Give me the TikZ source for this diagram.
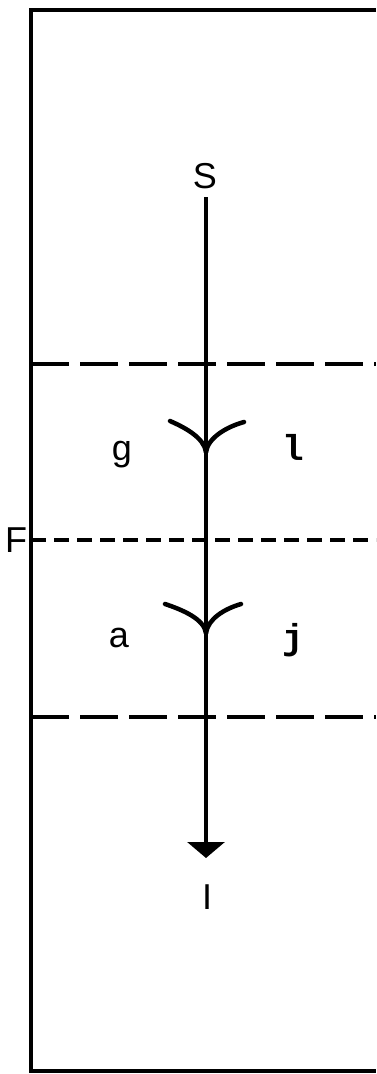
\documentclass[tikz,border=0pt]{standalone}
\usepackage{fontspec}
\setmainfont{Liberation Sans}
\newfontfamily\monofnt{Liberation Mono}
\usetikzlibrary{arrows.meta}
\begin{document}
\begin{tikzpicture}[x=1pt,y=-1pt,
  frame/.style={line width=4.5pt},
  mainline/.style={line width=3.5pt},
  longdash/.style={line width=3.8pt, dash pattern=on 38pt off 11pt},
  shortdash/.style={line width=3.8pt, dash pattern=on 15pt off 8pt},
  forkarm/.style={line width=4.5pt, line cap=round},
  lbl/.style={inner sep=0pt, font=\fontsize{36}{40}\selectfont},
  mlbl/.style={inner sep=0pt, font=\fontsize{36}{40}\selectfont\monofnt\bfseries}]
\useasboundingbox (0,0) rectangle (376,1074);
\fill[white] (0,0) rectangle (376,1074);
% frame (open to the right)
\draw[frame] (376,10) -- (31,10) -- (31,1071) -- (376,1071);
% dashed separators
\draw[longdash] (31,364) -- (376,364);
\draw[shortdash] (31,540) -- (376,540);
\draw[longdash] (31,717) -- (376,717);
% labels
\node[lbl] (S) at (205,176) {S};
\node[lbl] (I) at (207,897) {I};
\node[lbl] (F) at (16,540) {F};
\node[lbl] (g) at (122,455) {g};
\node[mlbl] (l) at (293,447) {l};
\node[lbl] (a) at (119,638) {a};
\node[mlbl] (j) at (293,640) {j};
\coordinate (tipI) at (206,858);
% main arrow
\draw[mainline, -{Triangle[width=37pt,length=16pt]}] (206,197) -- (tipI);
% forks
\coordinate (f1) at (206,452);
\draw[forkarm] (170,421) .. controls (186,428) and (204,438) .. (f1);
\draw[forkarm] (244,422) .. controls (226,427) and (208,438) .. (f1);
\coordinate (f2) at (206,633);
\draw[forkarm] (165,604) .. controls (183,610) and (204,619) .. (f2);
\draw[forkarm] (241,604) .. controls (224,609) and (208,619) .. (f2);
\end{tikzpicture}
\end{document}
